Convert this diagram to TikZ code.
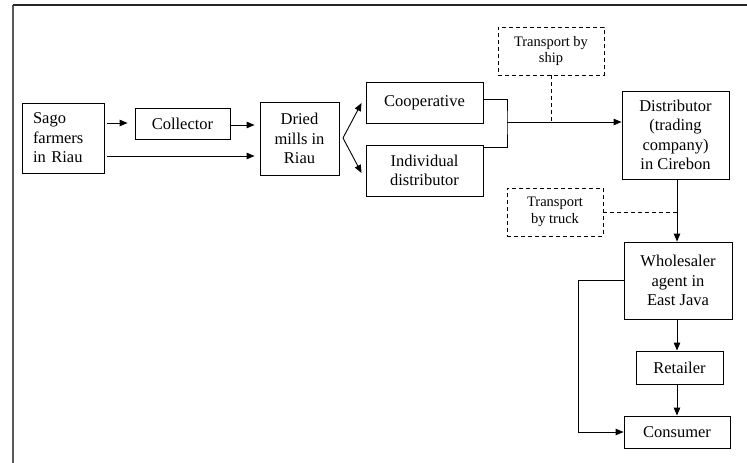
\documentclass[tikz,border=0pt]{standalone}
\usepackage{fontspec}
\setmainfont{Liberation Serif}
\usetikzlibrary{arrows.meta,calc}
\begin{document}
\begin{tikzpicture}[x=1pt,y=-1pt,
  box/.style={draw,line width=0.9pt,inner sep=0pt,align=center,font=\fontsize{16.5}{19.5}\selectfont},
  dbox/.style={draw,line width=0.8pt,dash pattern=on 4pt off 3pt,inner sep=0pt,align=center,font=\fontsize{14.5}{16.5}\selectfont},
  conn/.style={line width=0.9pt},
  arr/.style={conn,-{Triangle[length=8pt,width=6.5pt]}},
  dconn/.style={line width=0.8pt,dash pattern=on 4pt off 3pt}]
\useasboundingbox (0,0) rectangle (747,463);
% frame
\draw[line width=2pt,gray!70!black] (13,5) -- (13,463);
\draw[line width=1.4pt,black!85] (13,5) -- (747,5);
% nodes
\node[box,minimum width=82pt,minimum height=70pt,text width=60pt,align=left] (sago) at (63,138) {Sago\\farmers\\in Riau};
\node[box,minimum width=95pt,minimum height=31pt] (coll) at (182.5,123.5) {Collector};
\node[box,minimum width=79pt,minimum height=73pt] (dried) at (299.5,138.5) {Dried\\mills in\\Riau};
\node[box,minimum width=117pt,minimum height=41pt] (coop) at (424.5,102.5) {Cooperative};
\node[box,minimum width=117pt,minimum height=51pt] (indiv) at (424.5,170.5) {Individual\\distributor};
\node[dbox,minimum width=106pt,minimum height=48pt] (ship) at (551,51) {Transport by\\ship};
\node[box,minimum width=107pt,minimum height=88pt] (dist) at (675.5,135) {Distributor\\(trading\\company)\\in Cirebon};
\node[dbox,minimum width=96pt,minimum height=48pt] (truck) at (555,212) {Transport\\by truck};
\node[box,minimum width=108pt,minimum height=77pt] (whole) at (678,280.5) {Wholesaler\\agent in\\East Java};
\node[box,minimum width=87pt,minimum height=33pt] (retail) at (679.5,367.5) {Retailer};
\node[box,minimum width=106pt,minimum height=32pt] (cons) at (677,432) {Consumer};
% helper coordinates
\coordinate (fork) at (343,138);
\coordinate (brk) at (507,122);
\coordinate (col) at (677,0);
\coordinate (loop) at (578,0);
% connectors
\draw[arr] ($(sago.east)+(3,-15)$) -- ($(coll.west)+(-7,-0.5)$);
\draw[arr] ($(coll.east)+(1,1.5)$) -- ($(dried.west)+(-5,-13.5)$);
\draw[arr] ($(sago.east)+(3,18)$) -- ($(dried.west)+(-5,17.5)$);
\draw[arr] (fork) -- ($(coop.west)+(-4,0.5)$);
\draw[arr] (fork) -- ($(indiv.west)+(-4,2.5)$);
\draw[conn] ($(coop.east)+(0,-3.5)$) -| (brk) |- ($(indiv.north east)+(0,3)$);
\draw[arr] (brk) -- (dist.west |- brk);
\draw[dconn] (ship.south) -- (ship.south |- brk);
\draw[arr] (col |- dist.south) -- (col |- whole.north);
\draw[dconn] (truck.east) -- (col |- truck.east);
\draw[arr] (col |- whole.south) -- (col |- retail.north);
\draw[arr] (col |- retail.south) -- (col |- cons.north);
\draw[arr] (whole.west) -- (loop |- whole.west) |- (cons.west);
\end{tikzpicture}
\end{document}
